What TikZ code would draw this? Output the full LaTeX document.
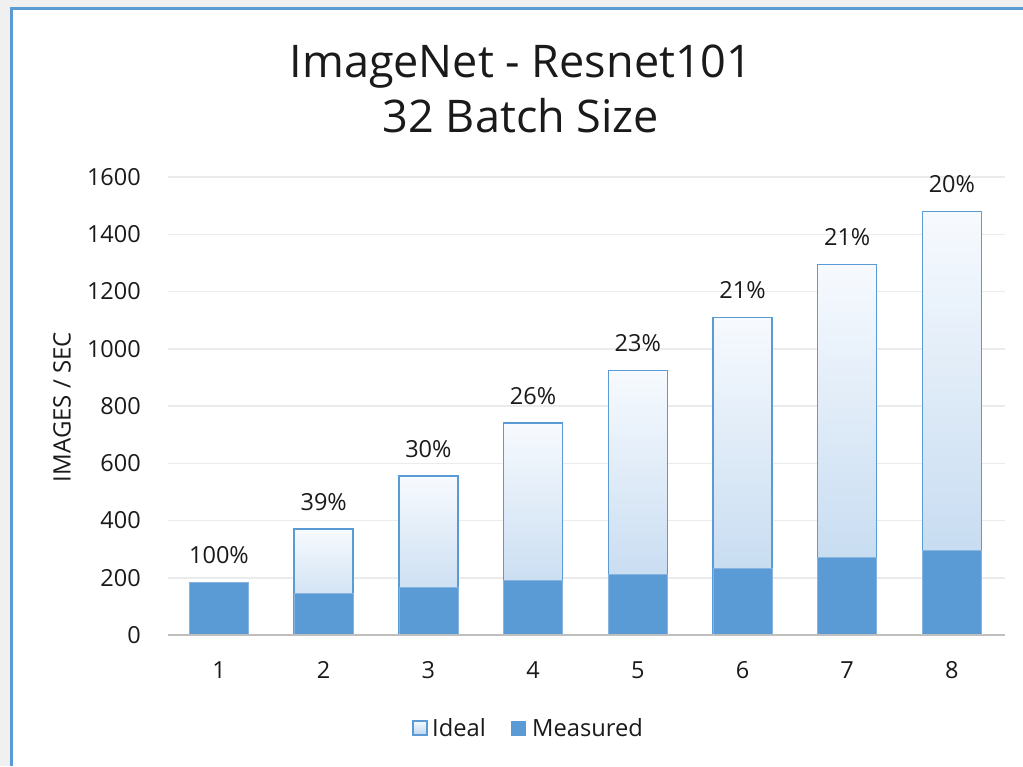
\documentclass[tikz,border=0pt]{standalone}
\usepackage{fontspec}
\setmainfont{Open Sans}
\definecolor{bblue}{HTML}{5B9BD5}
\definecolor{bedge}{HTML}{86B3E0}
\definecolor{ltop}{HTML}{F7FAFE}
\definecolor{lbot}{HTML}{BCD5EE}
\definecolor{gridc}{HTML}{EBEBEB}
\definecolor{axisc}{HTML}{BFBFBF}
\definecolor{outerc}{HTML}{F0F0F0}
\definecolor{txt}{HTML}{1A1A1A}
\tikzset{
  ticklab/.style={anchor=east, text=txt, font=\fontsize{23.5}{27}\selectfont, inner sep=0pt},
  catlab/.style={text=txt, font=\fontsize{23.5}{27}\selectfont, inner sep=0pt},
  pctlab/.style={text=txt, font=\fontsize{23.5}{27}\selectfont, inner sep=0pt},
  idealbar/.style={draw=bblue, line width=1.5pt, top color=ltop, bottom color=lbot},
  measbar/.style={fill=bblue, draw=bedge, line width=0.8pt},
  gridline/.style={draw=gridc, line width=1.5pt},
  legtext/.style={anchor=west, text=txt, font=\fontsize{23.7}{27}\selectfont, inner sep=0pt}
}
\begin{document}
\begin{tikzpicture}[x=1pt,y=-1pt]
\useasboundingbox (0,0) rectangle (1023,766);
\fill[outerc] (0,0) rectangle (1023,766);
\fill[white] (11,8) rectangle (1023,766);
\draw[bblue, line width=3pt] (11,766) -- (11,8) -- (1023,8);

% title
\node[align=center, text=txt, font=\fontsize{45}{55}\selectfont] (title) at (521,89) {ImageNet - Resnet101\\32 Batch Size};

% grid and tick labels
\foreach \v in {200,400,...,1600} {
  \pgfmathsetmacro\yy{635-\v*0.2862}
  \draw[gridline] (168,\yy) -- (1005,\yy);
}
\foreach \v in {0,200,...,1600} {
  \pgfmathsetmacro\yy{635-\v*0.2862}
  \node[ticklab] (t\v) at (141,\yy) {\v};
}
\node[rotate=90, text=txt, font=\fontsize{24}{28}\selectfont] (ylab) at (62,407) {IMAGES / SEC};

% bars
\foreach \i/\m/\p in {2/144/39,3/167/30,4/192/26,5/213/23,6/233/21,7/272/21,8/296/20} {
  \pgfmathsetmacro\cx{219+(\i-1)*104.7}
  \pgfmathsetmacro\yi{635-\i*185*0.2862}
  \draw[idealbar] (\cx-29.5,\yi) rectangle (\cx+29.5,635);
}
\foreach \i/\m/\p in {1/185/100,2/144/39,3/167/30,4/192/26,5/213/23,6/233/21,7/272/21,8/296/20} {
  \pgfmathsetmacro\cx{219+(\i-1)*104.7}
  \pgfmathsetmacro\yi{635-\i*185*0.2862}
  \pgfmathsetmacro\ym{635-\m*0.2862}
  \draw[measbar] (\cx-29.5,\ym) rectangle (\cx+29.5,635);
  \node[pctlab] (p\i) at (\cx,\yi-27) {\p\%};
  \node[catlab] (c\i) at (\cx,670) {\i};
}
\draw[axisc, line width=2pt] (168,635) -- (1005,635);

% legend
\node[idealbar, line width=1.2pt, minimum size=14pt, inner sep=0pt] (lk1) at (420,728) {};
\node[legtext] (lt1) at (432,728) {Ideal};
\node[fill=bblue, minimum size=15pt, inner sep=0pt] (lk2) at (518.5,728) {};
\node[legtext] (lt2) at (532,728) {Measured};
\end{tikzpicture}
\end{document}
